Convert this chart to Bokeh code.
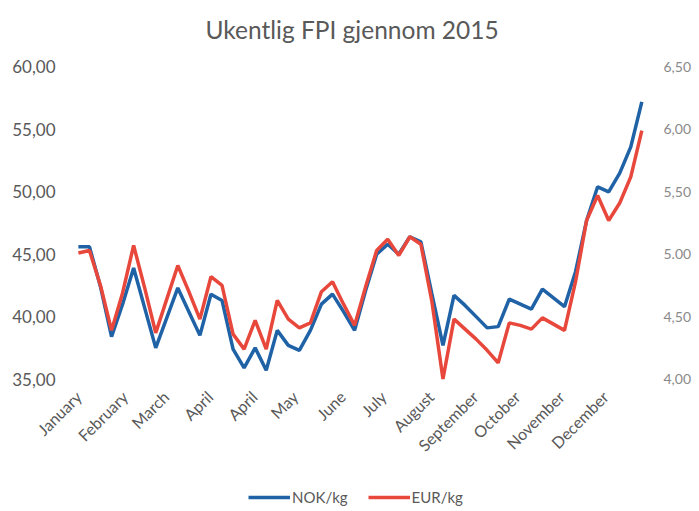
import math
from bokeh.plotting import figure
from bokeh.models import (Range1d, LinearAxis, FixedTicker, Legend, LegendItem)
from bokeh.core.properties import value
from bokeh.embed import file_html
from bokeh.resources import INLINE

# --- data (weekly, 2015) ---
weeks = list(range(52))
nok = [45.6, 45.6, 42.4, 38.4, 41.0, 43.9, 40.7, 37.5, 39.9, 42.3,
       40.4, 38.5, 41.8, 41.3, 37.4, 35.9, 37.5, 35.7, 38.9, 37.7,
       37.3, 38.9, 41.0, 41.8, 40.4, 38.9, 42.1, 45.0, 45.8, 45.0,
       46.4, 46.0, 41.8, 37.7, 41.7, 40.9, 40.0, 39.1, 39.2, 41.4,
       41.0, 40.6, 42.2, 41.5, 40.8, 43.6, 47.7, 50.4, 50.0, 51.5,
       53.6, 57.2]
eur = [5.01, 5.03, 4.75, 4.39, 4.69, 5.07, 4.73, 4.37, 4.64, 4.91,
       4.70, 4.48, 4.82, 4.75, 4.36, 4.24, 4.47, 4.24, 4.63, 4.48,
       4.41, 4.45, 4.70, 4.78, 4.60, 4.43, 4.74, 5.03, 5.12, 4.99,
       5.14, 5.08, 4.62, 4.00, 4.48, 4.40, 4.32, 4.23, 4.13, 4.45,
       4.43, 4.40, 4.49, 4.44, 4.39, 4.78, 5.27, 5.47, 5.27, 5.41,
       5.62, 5.99]

month_labels = ["January", "February", "March", "April", "April", "May", "June",
                "July", "August", "September", "October", "November", "December"]
month_ticks = [0.0, 4.2, 7.9, 11.9, 15.9, 19.6, 23.9, 27.6, 31.9, 35.9, 39.7, 43.7, 47.7]

nok_ticks = [35, 40, 45, 50, 55, 60]
nok_labels = ["35,00", "40,00", "45,00", "50,00", "55,00", "60,00"]
eur_ticks = [4.0, 4.5, 5.0, 5.5, 6.0, 6.5]
eur_labels = ["4,00", "4,50", "5.00", "5,50", "6,00", "6,50"]

FONT = "Lato"
GRAY = "#595959"

# layout: the frame reaches the bottom and far left of the page so that the rotated
# month labels and the legend can sit inside it without being clipped
Y_START, Y_END = 24.39, 61.0
X_START, X_END = -5.24, 52.6
LABEL_Y = 33.82

p = figure(frame_width=639, frame_height=457,
           x_range=Range1d(X_START, X_END), y_range=Range1d(Y_START, Y_END),
           output_backend="svg", toolbar_location=None,
           min_border_left=20, min_border_right=40, min_border_top=54, min_border_bottom=0,
           title="Ukentlig FPI gjennom 2015")
# EUR axis is aligned so that 4,00 sits level with 35,00 and 6,50 with 60,00
p.extra_y_ranges = {"eur": Range1d(4 + (Y_START - 35) / 10, 4 + (Y_END - 35) / 10)}

p.title.align = "left"
p.title.offset = 185
p.title.text_font = FONT
p.title.text_font_size = "24.5px"
p.title.text_font_style = "normal"
p.title.text_color = GRAY
p.title.standoff = 22

p.outline_line_color = None
p.background_fill_color = "white"
p.border_fill_color = "white"
p.xgrid.visible = False
p.ygrid.visible = False

# left axis (labels pulled into the frame area)
ya = p.yaxis[0]
ya.ticker = FixedTicker(ticks=nok_ticks)
ya.major_label_overrides = {t: l for t, l in zip(nok_ticks, nok_labels)}
ya.axis_line_color = None
ya.major_tick_line_color = None
ya.minor_tick_line_color = None
ya.major_tick_out = 0
ya.major_tick_in = 0
ya.major_label_standoff = -35
ya.major_label_text_font = FONT
ya.major_label_text_font_size = "17px"
ya.major_label_text_color = GRAY

# right axis
ra = LinearAxis(y_range_name="eur")
ra.ticker = FixedTicker(ticks=eur_ticks)
ra.major_label_overrides = {t: l for t, l in zip(eur_ticks, eur_labels)}
ra.axis_line_color = None
ra.major_tick_line_color = None
ra.minor_tick_line_color = None
ra.major_tick_out = 0
ra.major_tick_in = 0
ra.major_label_standoff = 4
ra.major_label_text_font = FONT
ra.major_label_text_font_size = "14px"
ra.major_label_text_color = "#8a8a8a"
p.add_layout(ra, "right")

# x axis: hidden, month labels drawn as rotated text under the data
p.xaxis.visible = False
p.text(x=month_ticks, y=[LABEL_Y] * len(month_ticks), text=month_labels,
       angle=math.pi / 4, text_align="right", text_baseline="middle",
       text_font=value(FONT), text_font_size=value("16px"), text_color=GRAY)

r_nok = p.line(weeks, nok, line_color="#1f62a6", line_width=3.5)
r_eur = p.line(weeks, eur, line_color="#e8483c", line_width=3.5, y_range_name="eur")

legend = Legend(items=[LegendItem(label="NOK/kg", renderers=[r_nok]),
                       LegendItem(label="EUR/kg", renderers=[r_eur])],
                orientation="horizontal", location=(228, 4),
                glyph_width=42, glyph_height=20, label_height=20,
                label_standoff=2, spacing=20,
                padding=0, margin=0, border_line_color=None,
                background_fill_alpha=0, label_text_font=FONT,
                label_text_font_size="15px", label_text_color=GRAY)
p.add_layout(legend, "center")

open("out.html", "w").write(file_html(p, INLINE))
